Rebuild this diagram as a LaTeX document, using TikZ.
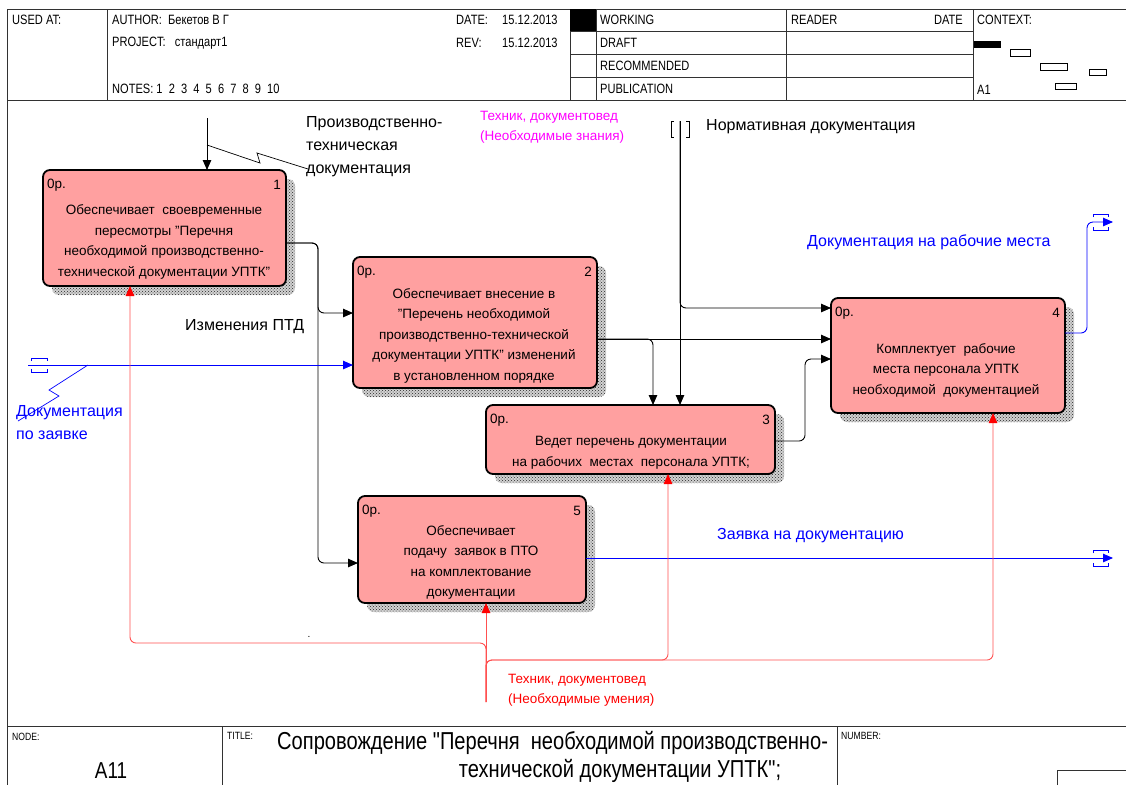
\documentclass[tikz,border=0pt]{standalone}
\usepackage{fontspec}
\setmainfont{Liberation Sans}
\newfontfamily\narrowfont[FakeStretch=0.82]{Liberation Sans}
\usetikzlibrary{arrows.meta,patterns,backgrounds}

\definecolor{boxpink}{RGB}{255,160,160}
\definecolor{mechred}{RGB}{255,80,80}
\definecolor{flowblue}{RGB}{0,0,255}
\definecolor{ctrlmag}{RGB}{255,0,255}
\definecolor{framegray}{RGB}{50,50,50}

% straight double quote, kept out of the TeX ligature mapping
\newcommand{\sq}{\char34\relax}

\tikzset{
  frameline/.style={draw=framegray, line width=1pt},
  hdr/.style={font=\narrowfont\fontsize{13.5}{16}\selectfont, anchor=west, inner sep=0},
  tinyhdr/.style={font=\narrowfont\fontsize{10.5}{12}\selectfont, anchor=west, inner sep=0},
  procbox/.style={draw=black, line width=1.8pt, fill=boxpink, rounded corners=7pt,
    anchor=north west, inner sep=0, outer sep=0},
  shadowfill/.style={fill=gray!35, postaction={pattern=crosshatch dots, pattern color=black!85},
    rounded corners=7pt},
  boxtext/.style={font=\fontsize{13.5}{20.5}\selectfont, align=center, inner sep=0},
  cornertag/.style={font=\fontsize{13.5}{16}\selectfont, inner sep=0},
  lbl/.style={font=\fontsize{16}{23}\selectfont, align=left, anchor=west, inner sep=0},
  smalllbl/.style={font=\fontsize{13.5}{20}\selectfont, align=left, anchor=west, inner sep=0},
  flow/.style={draw=black, line width=0.9pt, rounded corners=6pt,
    -{Triangle[length=10pt,width=8.5pt]}},
  bflow/.style={draw=flowblue, line width=0.9pt, rounded corners=6pt,
    -{Triangle[length=10pt,width=8.5pt]}},
  mflow/.style={draw=mechred, line width=0.9pt, rounded corners=6pt,
    -{Triangle[length=10pt,width=8.5pt,color=red]}},
  squig/.style={line width=0.7pt},
}

\begin{document}
\begin{tikzpicture}[x=1pt,y=-1pt]
\useasboundingbox (0,0) rectangle (1126,785);
\begin{scope}[on background layer]
  \fill[white] (0,0) rectangle (1126,785);
\end{scope}

% ---------- frame ----------
\draw[frameline] (7,9) -- (1126,9);
\draw[frameline] (7,9) -- (7,785);
\draw[frameline] (7,100) -- (1126,100);
\foreach \xx in {107,570,596,786,973} \draw[frameline] (\xx,9) -- (\xx,100);
\foreach \yy in {31,54,77} \draw[frameline] (570,\yy) -- (973,\yy);
\fill[black] (570,9) rectangle (596,31);

\node[hdr] (usedat) at (12,20) {USED AT:};
\node[hdr] (author) at (112,20) {AUTHOR:\ \ Бекетов В Г};
\node[hdr] (project) at (112,43) {PROJECT:\ \ \ стандарт1};
\node[hdr] (notes) at (112,89) {NOTES: 1\ \ 2\ \ 3\ \ 4\ \ 5\ \ 6\ \ 7\ \ 8\ \ 9\ \ 10};
\node[hdr] (datek) at (456,20) {DATE:};
\node[hdr] (datev) at (502,20) {15.12.2013};
\node[hdr] (revk) at (456,43) {REV:};
\node[hdr] (revv) at (502,43) {15.12.2013};
\node[hdr] (working) at (600,20) {WORKING};
\node[hdr] (draft) at (600,43) {DRAFT};
\node[hdr] (recom) at (600,66) {RECOMMENDED};
\node[hdr] (publ) at (600,89) {PUBLICATION};
\node[hdr] (reader) at (791,20) {READER};
\node[hdr, anchor=east] (rdate) at (963,20) {DATE};
\node[hdr] (context) at (977,20) {CONTEXT:};
\node[hdr] (ctxnode) at (977,90) {A1};

% context thumbnails
\fill[black] (974,41) rectangle (1001,48);
\draw[line width=0.8pt] (1010,49) rectangle (1030,56);
\draw[line width=0.8pt] (1040,63) rectangle (1067,70);
\draw[line width=0.8pt] (1089,69) rectangle (1106,75);
\draw[line width=0.8pt] (1055,83) rectangle (1076,89);

% footer
\draw[frameline] (7,726) -- (1126,726);
\draw[frameline] (222,726) -- (222,785);
\draw[frameline] (837,726) -- (837,785);
\draw[frameline] (1057,785) -- (1057,770) -- (1126,770);
\node[tinyhdr] (nodek) at (12,737) {NODE:};
\node[font=\narrowfont\fontsize{23}{26}\selectfont, inner sep=0] (nodev) at (111,771) {A11};
\node[tinyhdr] (titlek) at (227,736) {TITLE:};
\node[font=\narrowfont\fontsize{24.5}{28}\selectfont, anchor=west, inner sep=0] (title1) at (277,743)
  {Сопровождение \sq Перечня\ \ необходимой производственно-};
\node[font=\narrowfont\fontsize{24.5}{28}\selectfont, inner sep=0] (title2) at (620,771)
  {технической документации УПТК\sq;};
\node[tinyhdr] (numberk) at (841,736) {NUMBER:};

% ---------- activity boxes ----------
\node[procbox, minimum width=243pt, minimum height=116pt] (b1) at (43,170) {};
\node[procbox, minimum width=244pt, minimum height=131pt] (b2) at (353,257) {};
\node[procbox, minimum width=289pt, minimum height=69pt] (b3) at (486,405) {};
\node[procbox, minimum width=234pt, minimum height=115pt] (b4) at (831,298) {};
\node[procbox, minimum width=228pt, minimum height=107pt] (b5) at (358,496) {};

% stippled drop shadows behind the boxes
\begin{scope}[on background layer]
  \foreach \bx in {b1,b2,b3,b4,b5}
    \path[shadowfill] ([shift={(9,9)}]\bx.north west) rectangle ([shift={(9,9)}]\bx.south east);
\end{scope}

\foreach \bx/\num in {b1/1,b2/2,b3/3,b4/4,b5/5}{
  \node[cornertag, anchor=west] (\bx c) at ([shift={(4,15)}]\bx.north west) {0р.};
  \node[cornertag, anchor=east] (\bx n) at ([shift={(-5,15)}]\bx.north east) {\num};
}

\node[boxtext] (b1t) at (164,242) {Обеспечивает\ \ своевременные\\пересмотры \sq Перечня\\необходимой производственно-\\технической документации УПТК\sq};
\node[boxtext] (b2t) at (474,335.5) {Обеспечивает внесение в\\\sq Перечень необходимой\\производственно-технической\\документации УПТК\sq\ изменений\\в установленном порядке};
\node[boxtext] (b3t) at (631,452.5) {Ведет перечень документации\\на рабочих\ \ местах\ \ персонала УПТК;};
\node[boxtext] (b4t) at (946,370) {Комплектует\ \ рабочие\\места персонала УПТК\\необходимой\ \ документацией};
\node[boxtext] (b5t) at (471,562.5) {Обеспечивает\\подачу\ \ заявок в ПТО\\на комплектование\\документации};

% ---------- arrows ----------
% outputs of box 1
\draw[flow] ([shift={(0,15)}]b1.east) -- (318,243) -- (318,313) -- ([shift={(0,-9.5)}]b2.west);
\draw[flow] ([shift={(0,15)}]b1.east) -- (318,243) -- (318,563) -- ([shift={(0,13.5)}]b5.west);
% outputs of box 2
\draw[flow] ([shift={(0,16.5)}]b2.east) -- ([shift={(0,-16.5)}]b4.west);
\draw[flow] ([shift={(0,16.5)}]b2.east) -- (653,339) -- ([shift={(22.5,0)}]b3.north);
% control: normative documents
\coordinate (nd) at (680,121);
\draw[flow] (nd) -- ([shift={(49.5,0)}]b3.north);
\draw[flow] (nd) -- (680,308) -- ([shift={(0,-47.5)}]b4.west);
\draw[line width=0.8pt] (674,121) -- (671,121) -- (671,137) -- (674,137);
\draw[line width=0.8pt] (686,121) -- (689,121) -- (689,137) -- (686,137);
% output of box 3
\draw[flow] ([shift={(0,1.5)}]b3.east) -- (805,441) -- (805,359) -- ([shift={(0,3.5)}]b4.west);
% control: production documentation
\coordinate (ptd) at (207,118);
\draw[flow] (ptd) -- ([shift={(42.5,0)}]b1.north);
\draw[squig] (207,145) -- (260,163) -- (257,153) -- (308,169);

% blue input
\coordinate (dz) at (28,365);
\draw[bflow] (dz) -- ([shift={(0,42.5)}]b2.west);
\draw[flowblue, line width=0.8pt] (31,361) -- (31,358) -- (47,358) -- (47,361);
\draw[flowblue, line width=0.8pt] (31,369) -- (31,372) -- (47,372) -- (47,369);
\draw[flowblue, squig] (88,365) -- (49,390) -- (59,396) -- (18,421);

% blue outputs
\coordinate (out1) at (1113,222);
\draw[bflow] ([shift={(0,-22.5)}]b4.east) -- (1087,333) -- (1087,222) -- (out1);
\draw[flowblue, line width=0.8pt] (1093,217) -- (1093,214) -- (1108,214) -- (1108,217);
\draw[flowblue, line width=0.8pt] (1093,227) -- (1093,230) -- (1108,230) -- (1108,227);
\coordinate (out2) at (1113,558);
\draw[bflow] ([shift={(0,8.5)}]b5.east) -- (out2);
\draw[flowblue, line width=0.8pt] (1093,553) -- (1093,550) -- (1108,550) -- (1108,553);
\draw[flowblue, line width=0.8pt] (1093,563) -- (1093,566) -- (1108,566) -- (1108,563);

% mechanisms
\coordinate (mech) at (486,702);
\draw[mflow] (mech) -- ([shift={(14,0)}]b5.south);
\draw[mflow] (mech) -- (486,643) -- (130,643) -- ([shift={(-34.5,0)}]b1.south);
\draw[mflow] (mech) -- (486,660) -- (668,660) -- ([shift={(37.5,0)}]b3.south);
\draw[mflow] (mech) -- (486,660) -- (993,660) -- ([shift={(45,0)}]b4.south);

% ---------- labels ----------
\node[lbl] (ptdl) at (306,147) {Производственно-\\техническая\\документация};
\node[lbl] (izml) at (185,327) {Изменения ПТД};
\node[lbl, text=flowblue] (dzl) at (16,423) {Документация\\по заявке};
\node[smalllbl, text=ctrlmag] (knowl) at (480,127) {Техник, документовед\\(Необходимые знания)};
\node[lbl] (ndl) at (706,127) {Нормативная документация};
\node[lbl, text=flowblue] (out1l) at (807,242) {Документация на рабочие места};
\node[lbl, text=flowblue] (out2l) at (717,536) {Заявка на документацию};
\node[smalllbl, text=red] (skilll) at (508,690) {Техник, документовед\\(Необходимые умения)};
\node[font=\fontsize{10}{12}\selectfont, inner sep=0] (dot) at (309,637) {.};
\end{tikzpicture}
\end{document}
